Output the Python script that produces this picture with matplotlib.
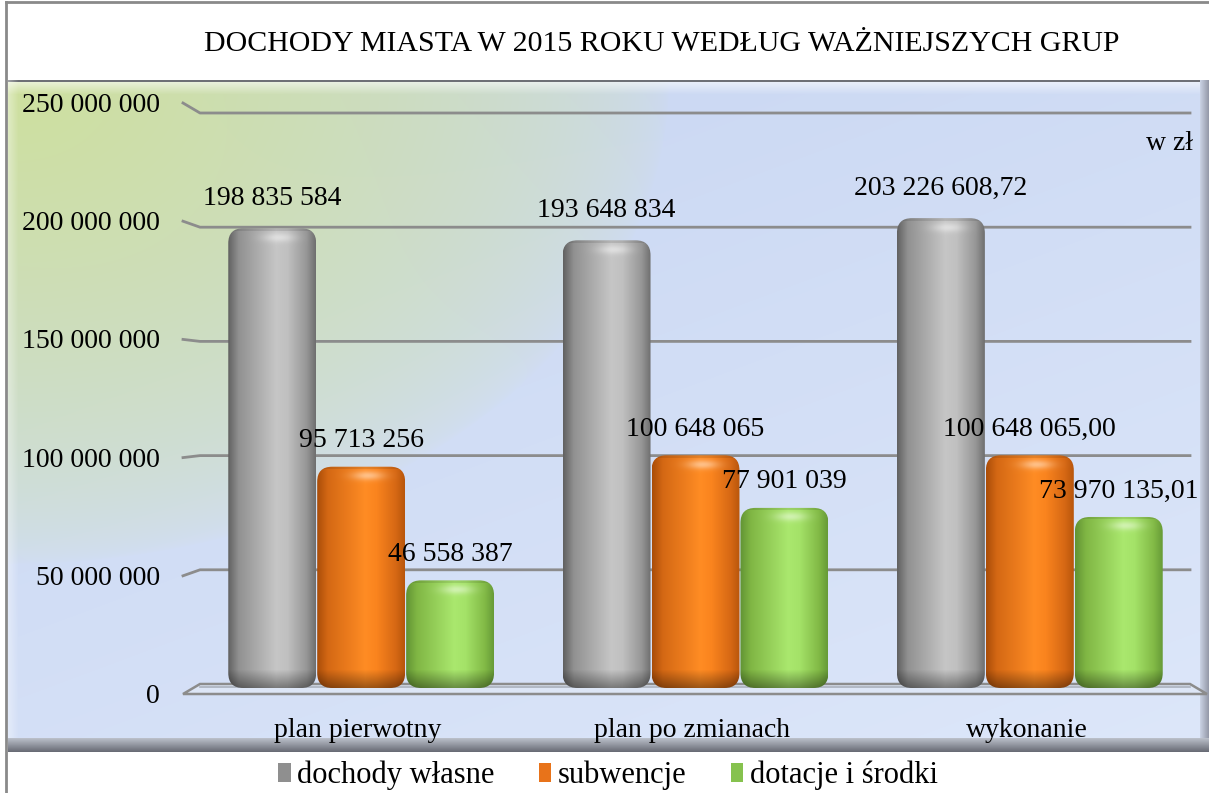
import numpy as np
import matplotlib
matplotlib.use('Agg')
import matplotlib.pyplot as plt
from matplotlib.patches import FancyBboxPatch, Polygon, Rectangle
from matplotlib.lines import Line2D
from matplotlib.transforms import Affine2D, blended_transform_factory

# ---------------- data ----------------
categories = ['plan pierwotny', 'plan po zmianach', 'wykonanie']
series_names = ['dochody własne', 'subwencje', 'dotacje i środki']
dochody_wlasne = [198835584, 193648834, 203226608.72]
subwencje = [95713256, 100648065, 100648065.00]
dotacje = [46558387, 77901039, 73970135.01]
label_decimals = [0, 0, 2]
yticks = [0, 50e6, 100e6, 150e6, 200e6, 250e6]
ytick_labels = ['0', '50 000 000', '100 000 000', '150 000 000', '200 000 000', '250 000 000']
title = 'DOCHODY MIASTA W 2015 ROKU WEDŁUG WAŻNIEJSZYCH GRUP'
unit = 'w zł'

# ---------------- style ----------------
W, H = 1209, 793
FS = 20
FS_TITLE = 21.5
FS_LEG = 22
plt.rcParams['font.family'] = ['Liberation Serif', 'DejaVu Serif']
fig = plt.figure(figsize=(W / 100, H / 100), dpi=100)
fig.patch.set_facecolor('white')
PX = Affine2D().scale(1 / W, -1 / H).translate(0, 1) + fig.transFigure


def fmt(v, d):
    s = f"{v:,.{d}f}"
    return s.replace(',', ' ').replace('.', ',')


# ---------------- panel background ----------------
bg = fig.add_axes([8 / W, 1 - 752 / H, (W - 8) / W, 672 / H])
bg.set_axis_off()
ph, pw = 672, 1201
yy, xx = np.mgrid[0:ph, 0:pw]
u = xx / pw
v = yy / ph
green = np.array([206, 224, 158]) / 255
blue1 = np.array([199, 213, 241]) / 255
blue2 = np.array([221, 231, 250]) / 255
g = np.clip(1 - np.sqrt((u / 0.55) ** 2 + (v / 0.72) ** 2), 0, 1) ** 0.6
mix = np.clip(0.6 * v + 0.4 * u, 0, 1)
base = blue1 * (1 - mix[..., None]) + blue2 * mix[..., None]
img = base * (1 - g[..., None]) + green * g[..., None]
# bevels
for r in range(12):
    a = 0.55 * (1 - r / 12)
    img[2 + r, :, :] = img[2 + r, :, :] * (1 - a) + a
img[0:2, :, :] = np.array([110, 112, 118]) / 255
for c in range(10):
    a = 0.35 * (1 - c / 10)
    img[:, c, :] = img[:, c, :] * (1 - a) + a
for r in range(14):
    t = r / 13
    col = np.array([185, 190, 200]) * (1 - t) + np.array([105, 108, 118]) * t
    img[ph - 14 + r, :, :] = col / 255
for c in range(9):
    t = c / 8
    col = np.array([200, 208, 225]) * (1 - t) + np.array([150, 155, 170]) * t
    img[:ph - 14, pw - 9 + c, :] = col / 255
bg.imshow(img, extent=(0, 1, 0, 1), aspect='auto', interpolation='bilinear')
bg.set_xlim(0, 1)
bg.set_ylim(0, 1)

# outer border
fig.add_artist(Line2D([6, 6], [2, H], transform=PX, color='#8a8a8a', lw=2))
fig.add_artist(Line2D([6, W], [2, 2], transform=PX, color='#8a8a8a', lw=2))

# ---------------- main axes ----------------
ax = fig.add_axes([194 / W, 1 - 688 / H, 1003 / W, 578 / H])
ax.patch.set_alpha(0)
ax.set_axis_off()
YMAX = 250e6
ax.set_xlim(-0.5, 2.5)
ax.set_ylim(0, YMAX)

grid_col = '#8c8c8c'
for val, lab in zip(yticks, ytick_labels):
    ypx = H - ax.transData.transform((0, val))[1]
    back = ypx - 4 + 7 * val / YMAX
    front = back + 10 - 20 * val / YMAX
    if val == 0:
        floor = Polygon([(183, front), (200, back), (1190, back), (1207, front)],
                        closed=True, transform=PX, facecolor='#dde6f6',
                        edgecolor=grid_col, lw=1.8, zorder=1, clip_on=False)
        ax.add_patch(floor)
        ax.add_line(Line2D([200, 1190], [back + 3, back + 3], transform=PX,
                           color='#aab0bc', lw=1.2, zorder=1, clip_on=False))
    else:
        ax.add_line(Line2D([183, 200, 1190], [front, back, back], transform=PX,
                           color=grid_col, lw=2, zorder=1, clip_on=False))
    ax.text(160, front + 9, lab, transform=PX, ha='right', va='baseline', fontsize=FS)

# ---------------- bars ----------------
x = np.arange(len(categories))
offsets = [-0.266, 0.0, 0.266]
width = 0.263
stops = [0, 0.12, 0.55, 0.68, 0.9, 1]
profiles = [
    [(98, 98, 98), (145, 145, 145), (198, 198, 198), (192, 192, 192), (150, 150, 150), (112, 112, 112)],
    [(170, 78, 10), (212, 104, 20), (255, 140, 36), (250, 132, 30), (214, 104, 20), (185, 86, 12)],
    [(98, 148, 52), (128, 182, 68), (170, 232, 110), (164, 226, 104), (130, 186, 70), (104, 156, 56)],
]
label_dy_px = [30, 26, 26]
legend_cols = ['#8f8f8f', '#e8731a', '#86c24e']

xu_per_px = 3.0 / 1003
yu_per_px = YMAX / 578
asp = yu_per_px / xu_per_px
r_px = 15

data_labels = []
for si, vals in enumerate([dochody_wlasne, subwencje, dotacje]):
    bars = ax.bar(x + offsets[si], vals, width, color='none', edgecolor='none', zorder=2)
    prof = np.array(profiles[si]) / 255
    for ci, rect in enumerate(bars):
        x0, w, h = rect.get_x(), rect.get_width(), rect.get_height()
        h_px = max(int(round(h / yu_per_px)), 4)
        w_px = max(int(round(w / xu_per_px)), 4)
        t = np.linspace(0, 1, w_px)
        row = np.stack([np.interp(t, stops, prof[:, k]) for k in range(3)], axis=-1)
        arr = np.repeat(row[None, :, :], h_px, axis=0)
        d = np.arange(h_px)[:, None]           # distance from bottom (origin lower)
        dt = (h_px - 1 - np.arange(h_px))[:, None]  # distance from top
        fb = np.where(d < 18, 0.62 + 0.38 * (d / 18.0), 1.0)
        arr = arr * fb[..., None]
        hl = 0.45 * np.exp(-((dt - 9) / 4.5) ** 2) * np.exp(-((t[None, :] - 0.58) / 0.18) ** 2)
        arr = arr + (1 - arr) * hl[..., None]
        edge_top = np.where(dt < 3, 0.9, 1.0)
        arr = np.clip(arr * edge_top[..., None], 0, 1)
        patch = FancyBboxPatch((x0, 0), w, h,
                               boxstyle=f'round,pad=0,rounding_size={r_px * xu_per_px}',
                               mutation_aspect=asp, facecolor='none', edgecolor='none',
                               transform=ax.transData, zorder=3)
        ax.add_patch(patch)
        im = ax.imshow(arr, extent=(x0, x0 + w, 0, h), origin='lower', aspect='auto',
                       interpolation='bilinear', zorder=3)
        im.set_clip_path(patch)
        ann = ax.annotate(fmt(vals[ci], label_decimals[ci]),
                          xy=(rect.get_x() + w / 2, h),
                          xytext=(0, label_dy_px[si] * 0.72), textcoords='offset points',
                          ha='center', va='center', fontsize=FS, zorder=5)
        data_labels.append(ann)

ax.set_xlim(-0.5, 2.5)
ax.set_ylim(0, YMAX)

# category labels
cat_tr = blended_transform_factory(ax.transData, PX)
for xi, c in zip(x, categories):
    ax.text(xi - 0.01, 737, c, transform=cat_tr, ha='center', va='baseline', fontsize=FS)

# unit
ax.text(1193, 150, unit, transform=PX, ha='right', va='baseline', fontsize=FS)

# title
fig.text(662 / W, 1 - 51 / H, title, ha='center', va='baseline', fontsize=FS_TITLE)

# legend
handles = [Rectangle((0, 0), 1, 1, facecolor=c, edgecolor='none') for c in legend_cols]
fig.legend(handles, series_names, loc='lower center', bbox_to_anchor=(0.503, -0.012),
           ncol=3, frameon=False, fontsize=FS_LEG, handlelength=0.4, handleheight=0.6,
           handletextpad=0.22, columnspacing=1.45, borderaxespad=0)

# keep data labels inside panel
fig.canvas.draw()
renderer = fig.canvas.get_renderer()
for ann in data_labels:
    bb = ann.get_window_extent(renderer)
    if bb.x1 > 1201:
        ann.xyann = (ann.xyann[0] - (bb.x1 - 1201) * 0.72, ann.xyann[1])

fig.savefig('out.png', dpi=100)
